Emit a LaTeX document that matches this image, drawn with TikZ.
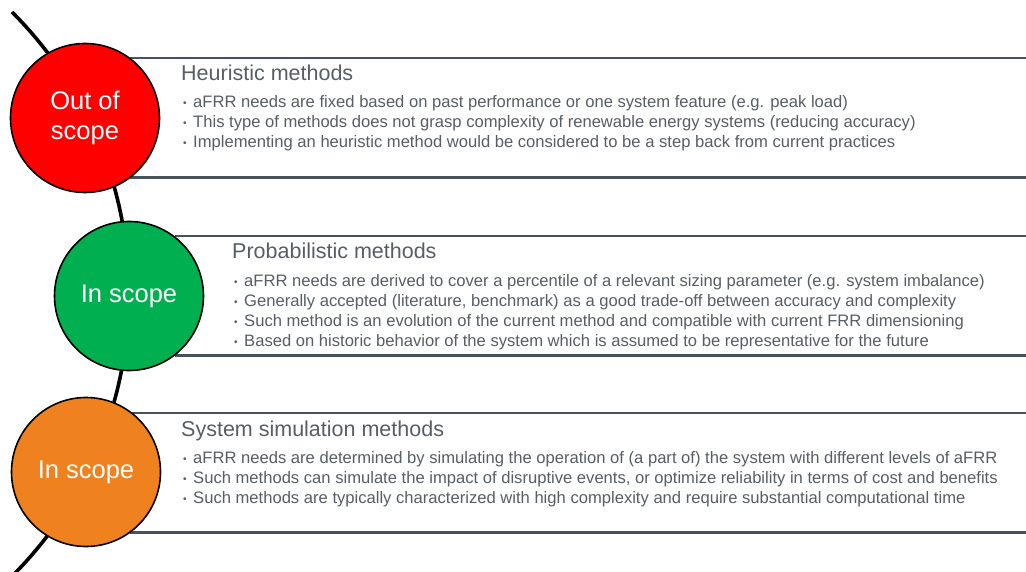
\documentclass[tikz,border=0pt]{standalone}
\usepackage{fontspec}
\setmainfont{Liberation Sans}
\usetikzlibrary{positioning}

\definecolor{stopred}{RGB}{255,0,0}
\definecolor{gogreen}{RGB}{0,176,80}
\definecolor{midorange}{RGB}{239,130,30}
\definecolor{rulegray}{RGB}{72,82,92}
\definecolor{txtgray}{RGB}{88,94,102}

\tikzset{
  scopecircle/.style={circle, draw=black, line width=1.6pt, minimum size=149pt,
    inner sep=0pt, text=white, align=center, font=\fontsize{25.5}{30}\selectfont},
  methodbox/.style={rectangle, fill=white, anchor=north west, inner sep=0pt,
    minimum height=119pt},
  boxrule/.style={draw=rulegray, line width=2.4pt},
  boxtitle/.style={anchor=base west, inner sep=0pt, text=txtgray,
    font=\fontsize{21.5}{26}\selectfont},
  boxlist/.style={anchor=north west, inner sep=0pt, text=txtgray, align=left,
    font=\fontsize{16.6}{20}\selectfont},
  spine/.style={line width=3.6pt, black}
}
\newcommand{\bul}{\makebox[10pt][l]{\raisebox{1pt}{\fontsize{10}{10}\selectfont\textbullet}}}

\begin{document}
\begin{tikzpicture}[x=1pt,y=-1pt]
  \useasboundingbox (0,0) rectangle (1026,572);

  % the spine behind the circles
  \coordinate (spinetop) at (12,12);
  \draw[spine] (spinetop) arc[start angle=-45, end angle=45, radius=399];

  % boxes
  \node[methodbox, minimum width=896pt] (box1) at (130,58) {};
  \node[methodbox, minimum width=851pt] (box2) at (175,236) {};
  \node[methodbox, minimum width=896pt] (box3) at (130,413) {};
  \draw[boxrule] (box1.north west) -- (box1.north east)
                 (box1.south west) -- (box1.south east);
  \draw[boxrule] (box2.north west) -- (box2.north east)
                 (box2.south west) -- (box2.south east);
  \draw[boxrule] (box3.north west) -- (box3.north east)
                 (box3.south west) -- (box3.south east);

  % circles
  \node[scopecircle, fill=stopred]   (out)   at (85,118)  {Out of\\scope};
  \node[scopecircle, fill=gogreen]   (prob)  at (129,296) {In scope};
  \node[scopecircle, fill=midorange] (simul) at (86,472)  {In scope};

  % texts
  \node[boxtitle] (title1) at (181,81) {Heuristic methods};
  \node[boxlist] (list1) at (183,95.5) {%
    \bul aFRR needs are fixed based on past performance or one system feature (e.g. peak load)\\
    \bul This type of methods does not grasp complexity of renewable energy systems (reducing accuracy)\\
    \bul Implementing an heuristic method would be considered to be a step back from current practices};

  \node[boxtitle] (title2) at (232,259) {Probabilistic methods};
  \node[boxlist] (list2) at (234,274.5) {%
    \bul aFRR needs are derived to cover a percentile of a relevant sizing parameter (e.g. system imbalance)\\
    \bul Generally accepted (literature, benchmark) as a good trade-off between accuracy and complexity\\
    \bul Such method is an evolution of the current method and compatible with current FRR dimensioning\\
    \bul Based on historic behavior of the system which is assumed to be representative for the future};

  \node[boxtitle] (title3) at (181,436) {System simulation methods};
  \node[boxlist] (list3) at (183,451.5) {%
    \bul aFRR needs are determined by simulating the operation of (a part of) the system with different levels of aFRR\\
    \bul Such methods can simulate the impact of disruptive events, or optimize reliability in terms of cost and benefits\\
    \bul Such methods are typically characterized with high complexity and require substantial computational time};
\end{tikzpicture}
\end{document}
